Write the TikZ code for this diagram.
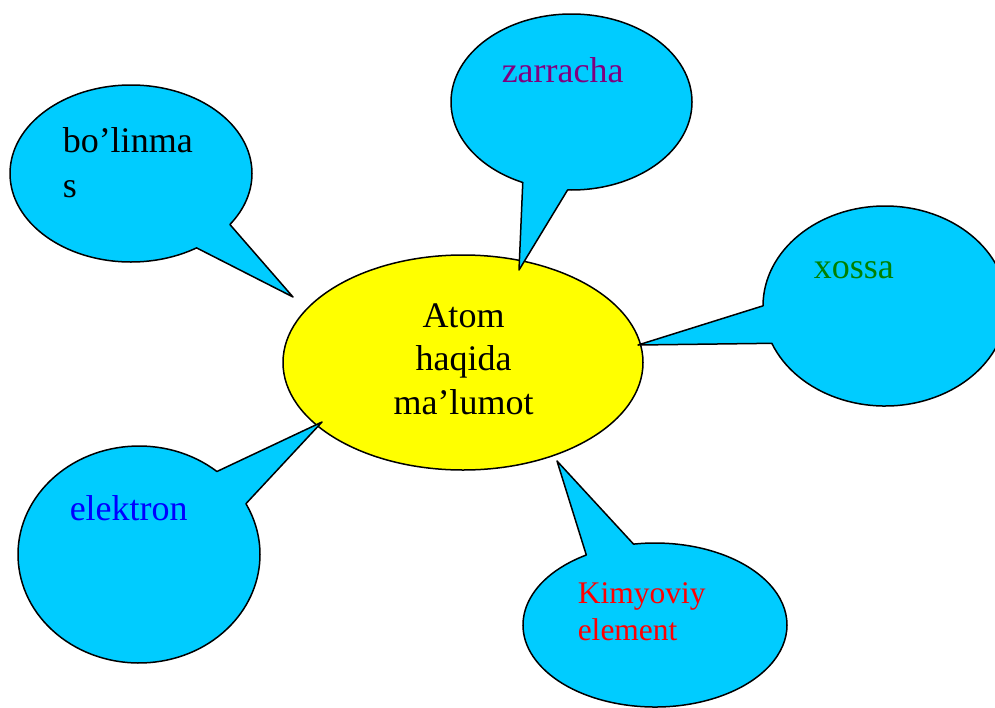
\documentclass[tikz,border=0pt]{standalone}
\usepackage{fontspec}
\setmainfont{Liberation Serif}
\usetikzlibrary{shapes.geometric,shapes.callouts}
\definecolor{bubblecyan}{HTML}{00CCFF}
\definecolor{atomyellow}{HTML}{FFFF00}
\definecolor{wordpurple}{HTML}{800080}
\definecolor{wordgreen}{HTML}{008000}

\begin{document}
\begin{tikzpicture}[x=1pt, y=-1pt, line width=1.5pt, line join=round,
  bubble/.style={ellipse callout, draw=black, fill=bubblecyan, inner sep=0pt,
    callout pointer arc=22},
  word/.style={anchor=base west, inner sep=0pt, font=\fontsize{36}{45}\selectfont}]
  \useasboundingbox (0,0) rectangle (995,707);
  % central ellipse
  \node[ellipse, draw=black, fill=atomyellow, inner sep=0pt,
    minimum width=360, minimum height=215] (atom) at (463,362.5) {};
  % pointer tips
  \coordinate (bolinmastip) at (293,297);
  \coordinate (zarrachatip) at (519,270);
  \coordinate (xossatip) at (638,345);
  \coordinate (elektrontip) at (322,422);
  \coordinate (kimyoviytip) at (557,461);
  % speech bubbles round the centre
  \node[bubble, minimum width=242, minimum height=177,
    callout absolute pointer={(bolinmastip)}] (bolinmas) at (131,173.5) {};
  \node[bubble, minimum width=241, minimum height=176,
    callout absolute pointer={(zarrachatip)}] (zarracha) at (571.5,102) {};
  \node[bubble, minimum width=244, minimum height=200,
    callout absolute pointer={(xossatip)}] (xossa) at (885,306) {};
  \node[bubble, minimum width=242, minimum height=217,
    callout absolute pointer={(elektrontip)}] (elektron) at (139,554.5) {};
  \node[bubble, minimum width=264, minimum height=164,
    callout absolute pointer={(kimyoviytip)}] (kimyoviy) at (655,625) {};
  % texts (base of a multi-line node is its last line)
  \node[word, align=center, anchor=base, font=\fontsize{36}{43.5}\selectfont]
    (atomtext) at (463.5,414) {Atom\\haqida\\ma’lumot};
  \node[word, align=left] (bolinmastext) at (62,197) {bo’linma\\s};
  \node[word, text=wordpurple] (zarrachatext) at (501,82) {zarracha};
  \node[word, text=wordgreen] (xossatext) at (813,278) {xossa};
  \node[word, text=blue] (elektrontext) at (69,520) {elektron};
  \node[word, align=left, text=red, font=\fontsize{31.5}{37}\selectfont]
    (kimyoviytext) at (577,640) {Kimyoviy\\element};
\end{tikzpicture}
\end{document}
